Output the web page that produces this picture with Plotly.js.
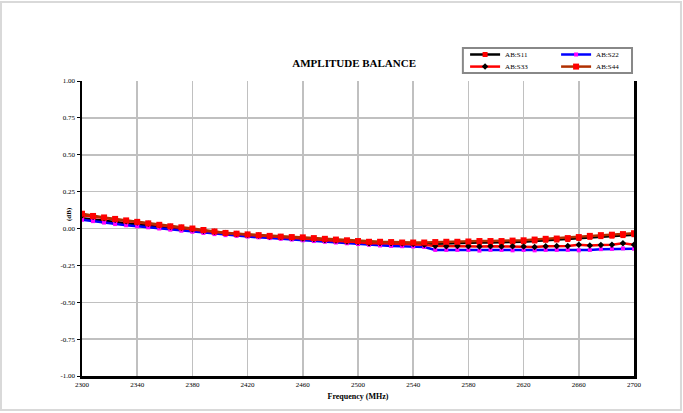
<!DOCTYPE html>
<html>
<head>
<meta charset="utf-8">
<script src="https://cdn.plot.ly/plotly-3.0.1.min.js"></script>
<style>html,body{margin:0;padding:0;background:#fff;}#chart{width:683px;height:413px;}</style>
</head>
<body>
<div id="chart"></div>
<script>
const freq = [];
for (let f = 2300; f <= 2700; f += 8) freq.push(f);

const s11 = [0.07, 0.06, 0.05, 0.042, 0.035, 0.028, 0.02, 0.012, 0.005, -0.002, -0.01, -0.018, -0.025, -0.032, -0.04, -0.045, -0.05, -0.055, -0.06, -0.065, -0.07, -0.075, -0.08, -0.085, -0.09, -0.095, -0.098, -0.1, -0.102, -0.105, -0.105, -0.105, -0.103, -0.1, -0.1, -0.098, -0.095, -0.095, -0.095, -0.092, -0.09, -0.085, -0.08, -0.078, -0.075, -0.068, -0.06, -0.055, -0.052, -0.048, -0.042];
const s22 = [0.06, 0.05, 0.04, 0.03, 0.022, 0.015, 0.008, 0.0, -0.008, -0.015, -0.022, -0.03, -0.038, -0.045, -0.05, -0.055, -0.06, -0.065, -0.07, -0.075, -0.08, -0.085, -0.09, -0.095, -0.1, -0.105, -0.11, -0.115, -0.118, -0.12, -0.122, -0.125, -0.145, -0.145, -0.145, -0.145, -0.15, -0.145, -0.145, -0.148, -0.145, -0.148, -0.145, -0.145, -0.145, -0.148, -0.145, -0.14, -0.138, -0.135, -0.138];
const s33 = [0.09, 0.08, 0.07, 0.06, 0.05, 0.04, 0.032, 0.022, 0.012, 0.005, -0.005, -0.015, -0.022, -0.03, -0.038, -0.043, -0.048, -0.055, -0.058, -0.062, -0.068, -0.072, -0.078, -0.082, -0.088, -0.092, -0.1, -0.098, -0.1, -0.102, -0.105, -0.11, -0.118, -0.12, -0.118, -0.12, -0.122, -0.12, -0.122, -0.12, -0.122, -0.125, -0.12, -0.118, -0.118, -0.11, -0.115, -0.112, -0.11, -0.1, -0.11];
const s44 = [0.1, 0.085, 0.075, 0.065, 0.055, 0.045, 0.035, 0.025, 0.015, 0.008, 0.0, -0.01, -0.02, -0.03, -0.035, -0.04, -0.045, -0.05, -0.055, -0.058, -0.06, -0.065, -0.07, -0.075, -0.08, -0.085, -0.09, -0.09, -0.092, -0.095, -0.095, -0.095, -0.092, -0.09, -0.09, -0.088, -0.085, -0.085, -0.085, -0.082, -0.08, -0.075, -0.07, -0.068, -0.065, -0.058, -0.05, -0.045, -0.042, -0.038, -0.032];

const yTicks = [-1, -0.75, -0.5, -0.25, 0, 0.25, 0.5, 0.75, 1];
const xTicks = [2300, 2340, 2380, 2420, 2460, 2500, 2540, 2580, 2620, 2660, 2700];

const font = 'Liberation Serif, Times New Roman, serif';

const traces = [
  {x: freq, y: s11, name: 'AB:S11', mode: 'lines+markers', legend: 'legend',
   line: {color: '#000000', width: 2.5}, marker: {symbol: 'square', color: '#ff0000', size: 5}},
  {x: freq, y: s22, name: 'AB:S22', mode: 'lines+markers', legend: 'legend',
   line: {color: '#0000ff', width: 2.5}, marker: {symbol: 'square', color: '#ff00ff', size: 4}},
  {x: freq, y: s33, name: 'AB:S33', mode: 'lines+markers', legend: 'legend2',
   line: {color: '#ff0000', width: 2.5}, marker: {symbol: 'diamond', color: '#000000', size: 5}},
  {x: freq, y: s44, name: 'AB:S44', mode: 'lines+markers', legend: 'legend2',
   line: {color: '#b03000', width: 2.5}, marker: {symbol: 'square', color: '#ff0000', size: 6}}
];

const legendBase = {
  orientation: 'h', xanchor: 'left', yanchor: 'top',
  borderwidth: 0, bgcolor: 'rgba(0,0,0,0)',
  font: {size: 7, family: font}, entrywidth: 46, entrywidthmode: 'pixels',
  itemwidth: 30, tracegroupgap: 0, traceorder: 'normal'
};

const layout = {
  width: 683, height: 413,
  margin: {l: 82, r: 49, t: 81, b: 37, autoexpand: false},
  paper_bgcolor: '#ffffff', plot_bgcolor: '#ffffff',
  font: {family: font, color: '#000', size: 7},
  showlegend: true,
  title: {text: '<b>AMPLITUDE BALANCE</b>', font: {family: font, size: 11, color: '#000'},
          xref: 'paper', x: 0.493, xanchor: 'center', yref: 'container', y: 0.847, yanchor: 'middle'},
  xaxis: {
    range: [2300, 2700], tickvals: xTicks, ticktext: xTicks.map(String),
    showgrid: true, gridcolor: '#c0c0c0', gridwidth: 1.5,
    showline: true, linecolor: '#000', linewidth: 2.5, mirror: false,
    ticks: '', zeroline: false, tickfont: {size: 7, family: font},
    title: {text: '<b>Frequency (MHz)</b>', font: {size: 8, family: font}, standoff: 6}
  },
  yaxis: {
    range: [-1, 1], tickvals: yTicks, ticktext: yTicks.map(v => v.toFixed(2)),
    showgrid: true, gridcolor: '#c0c0c0', gridwidth: 1.5,
    showline: true, linecolor: '#000', linewidth: 2.5, mirror: true,
    ticks: 'outside', ticklen: 3, tickcolor: '#000', tickwidth: 1,
    zeroline: false, tickfont: {size: 7, family: font}
  },
  legend: Object.assign({}, legendBase, {x: 0.694, y: 1.139}),
  legend2: Object.assign({}, legendBase, {x: 0.694, y: 1.098}),
  annotations: [
    {text: '<b>(dB)</b>', xref: 'paper', yref: 'paper', x: -0.034, y: 0.55,
     showarrow: false, textangle: -90, font: {size: 7, family: font}}
  ],
  shapes: [
    {type: 'rect', xref: 'paper', yref: 'paper', x0: -0.1467, x1: 1.0851, y0: -0.1153, y1: 1.2678,
     line: {color: '#d9d9d9', width: 2}, layer: 'below'},
    {type: 'rect', xref: 'paper', yref: 'paper', x0: 0.690, x1: 0.9964, y0: 1.027, y1: 1.112,
     line: {color: '#888888', width: 2}, fillcolor: 'rgba(0,0,0,0)', layer: 'above'}
  ]
};

Plotly.newPlot('chart', traces, layout, {displayModeBar: false, staticPlot: true});
</script>
</body>
</html>
